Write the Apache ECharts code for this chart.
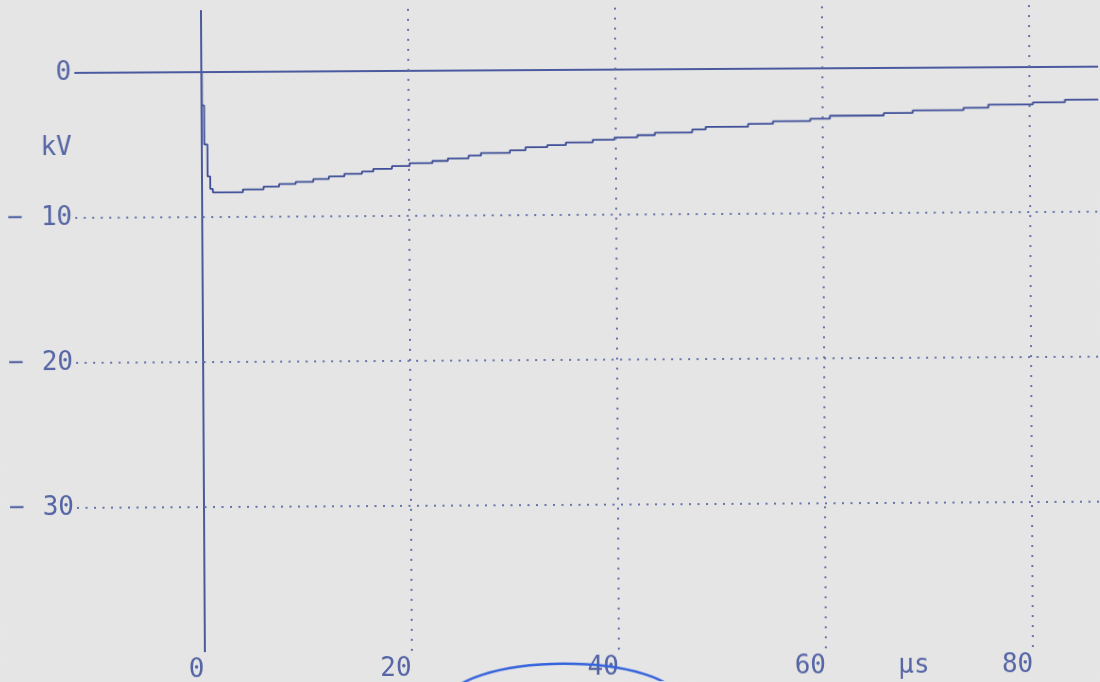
<!DOCTYPE html>
<html>
<head>
<meta charset="utf-8">
<script src="https://cdn.jsdelivr.net/npm/echarts@6.0.0/dist/echarts.min.js"></script>
<style>
  html, body { margin: 0; padding: 0; background: #e5e5e5; overflow: hidden; }
  #chart { width: 1100px; height: 682px; transform: rotate(-0.35deg); transform-origin: 50% 50%; }
</style>
</head>
<body>
<div id="chart"></div>
<script>
// Impulse voltage record: time in µs, voltage in kV (digitizer staircase levels)
const timeUs = [-12.2, 0.1, 0.3, 0.6, 0.85, 1.1, 4.0, 6.0, 7.5, 9.1, 10.8, 12.3, 13.8, 15.5, 16.6,
  18.4, 20.1, 22.3, 23.8, 25.8, 27.0, 29.8, 31.3, 33.4, 35.2, 37.8, 39.9, 42.1, 43.8, 47.4,
  48.7, 52.8, 55.2, 58.8, 60.7, 65.9, 68.7, 73.6, 76.0, 80.3, 83.4, 86.8];
const voltageKV = [0, -2.3, -5.0, -7.2, -8.06, -8.3, -8.11, -7.93, -7.75, -7.61, -7.43, -7.26, -7.08, -6.93, -6.75,
  -6.57, -6.38, -6.23, -6.06, -5.88, -5.70, -5.53, -5.33, -5.19, -5.01, -4.84, -4.69, -4.54, -4.37, -4.17,
  -4.0, -3.81, -3.64, -3.48, -3.28, -3.12, -2.95, -2.79, -2.58, -2.44, -2.27, -2.27];

// Axis ticks and grid divisions
const timeTicks = [0, 20, 40, 60, 80];
const timeUnitAt = 70;          // where the "µs" unit sits along the time axis
const voltTicks = [0, -10, -20, -30];
const voltUnitAt = -5.2;        // where the "kV" unit sits along the voltage axis

// Hand-drawn pen ring below the 40 µs mark (centre and radii in axis units)
const penRingCenter = [34.6, -43.5];
const penRingRadius = [11.1, 2.55];

const ink = '#4b5a9e';
const labelInk = '#5565a5';
const dotInk = '#6674ad';
const monoFont = '"DejaVu Sans Mono", "Liberation Mono", monospace';

const traceData = timeUs.map((t, i) => [t, voltageKV[i]]);

const gridMarks = [
  { yAxis: 0, lineStyle: { type: 'solid', width: 2, color: ink } },
  { xAxis: 0, lineStyle: { type: 'solid', width: 2, color: ink } }
];
timeTicks.filter(v => v !== 0).forEach(v => gridMarks.push({
  xAxis: v, lineStyle: { type: [2, 8], width: 2, color: dotInk }
}));
voltTicks.filter(v => v !== 0).forEach(v => gridMarks.push({
  yAxis: v, lineStyle: { type: [2, 6.5], width: 2, color: dotInk }
}));

const chart = echarts.init(document.getElementById('chart'), null, { renderer: 'canvas' });

chart.setOption({
  backgroundColor: '#e5e5e5',
  animation: false,
  grid: { left: 76, right: 0, top: 8, bottom: 32, containLabel: false },
  xAxis: {
    type: 'value',
    min: -12.2,
    max: 86.64,
    axisLine: { show: false },
    axisTick: { show: false },
    splitLine: { show: false },
    axisLabel: {
      customValues: timeTicks.concat([timeUnitAt]),
      formatter: v => (v === timeUnitAt ? 'µs' : String(v)),
      align: 'right',
      margin: 5,
      color: labelInk,
      fontFamily: monoFont,
      fontSize: 26
    }
  },
  yAxis: {
    type: 'value',
    min: -40,
    max: 4.27,
    axisLine: { show: false },
    axisTick: { show: false },
    splitLine: { show: false },
    axisLabel: {
      customValues: voltTicks.concat([voltUnitAt]),
      formatter: v => {
        if (v === voltUnitAt) return 'kV';
        if (v === 0) return '0';
        return '{d|\u2212}' + Math.abs(v);
      },
      rich: {
        d: { padding: [0, 18, 0, 0], fontFamily: monoFont, fontSize: 26, color: labelInk }
      },
      margin: 3,
      color: labelInk,
      fontFamily: monoFont,
      fontSize: 26
    }
  },
  series: [{
    type: 'line',
    data: traceData,
    step: 'end',
    showSymbol: false,
    lineStyle: { color: '#3e4e98', width: 1.8 },
    markLine: {
      silent: true,
      symbol: 'none',
      label: { show: false },
      data: gridMarks
    },
    z: 3
  }]
});

// Pen ring, placed through the axis scales
const c = chart.convertToPixel({ gridIndex: 0 }, penRingCenter);
const e = chart.convertToPixel({ gridIndex: 0 },
  [penRingCenter[0] + penRingRadius[0], penRingCenter[1] + penRingRadius[1]]);
chart.setOption({
  graphic: [{
    type: 'ellipse',
    shape: { cx: c[0], cy: c[1], rx: Math.abs(e[0] - c[0]), ry: Math.abs(c[1] - e[1]) },
    style: { fill: null, stroke: '#3563dc', lineWidth: 2.5 },
    silent: true,
    z: 10
  }]
});
</script>
</body>
</html>
